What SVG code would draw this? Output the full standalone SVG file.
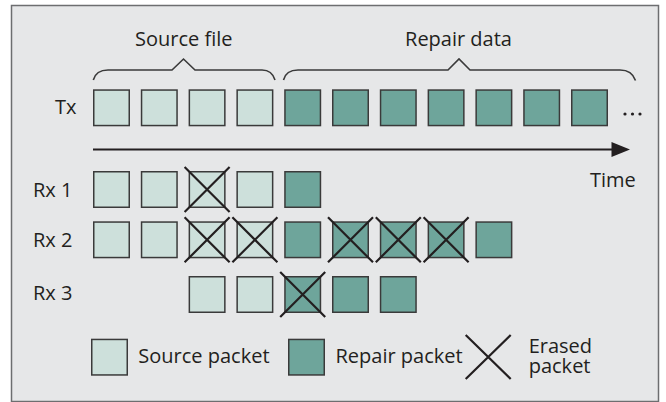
<svg xmlns="http://www.w3.org/2000/svg" width="666" height="402" viewBox="0 0 666 402">
<style>
.txt{font-family:"Open Sans","Liberation Sans",sans-serif;font-size:20px;fill:#231f20}
.src{fill:#cde0db;stroke:#3a3a3a;stroke-width:1.5}
.rep{fill:#6ea59b;stroke:#3a3a3a;stroke-width:1.5}
.x{stroke:#231f20;stroke-width:2.2;fill:none}
.br{stroke:#3a3a3a;stroke-width:1.6;fill:none}
</style>
<defs>
<rect id="s" class="src" x="0.75" y="0.75" width="35.5" height="35.5"/>
<rect id="r" class="rep" x="0.75" y="0.75" width="35.5" height="35.5"/>
<path id="xx" class="x" d="M-4,-4L41,41M41,-4L-4,41"/>
</defs>
<rect x="11.5" y="5.5" width="647" height="396" fill="#e6e7e8" stroke="#6d6e70" stroke-width="1.5"/>

<g id="labels">
<text class="txt" x="183.8" y="46" text-anchor="middle">Source file</text>
<text class="txt" x="458.5" y="46" text-anchor="middle">Repair data</text>
<text class="txt" x="55" y="114">Tx</text>
<text class="txt" x="33" y="196.5">Rx 1</text>
<text class="txt" x="33" y="246.7">Rx 2</text>
<text class="txt" x="33" y="300">Rx 3</text>
<text class="txt" x="590" y="186.7">Time</text>
</g>

<g id="braces">
<path class="br" d="M93.3,80 Q96,70 108,70 L172,70 L183.5,59 L195,70 L262,70 Q272,70 275,80"/>
<path class="br" d="M283.5,80 Q286,70 298,70 L448,70 L459,59 L470,70 L620,70 Q632,70 635.5,80.5"/>
</g>

<g id="tx">
<use href="#s" x="93" y="89.3"/>
<use href="#s" x="140.8" y="89.3"/>
<use href="#s" x="188.6" y="89.3"/>
<use href="#s" x="236.4" y="89.3"/>
<use href="#r" x="284.2" y="89.3"/>
<use href="#r" x="332" y="89.3"/>
<use href="#r" x="379.8" y="89.3"/>
<use href="#r" x="427.6" y="89.3"/>
<use href="#r" x="475.4" y="89.3"/>
<use href="#r" x="523.2" y="89.3"/>
<use href="#r" x="571" y="89.3"/>
<circle cx="625" cy="114" r="1.6" fill="#231f20"/>
<circle cx="632.5" cy="114" r="1.6" fill="#231f20"/>
<circle cx="640" cy="114" r="1.6" fill="#231f20"/>
</g>

<g id="connectors">
<line x1="93" y1="149.5" x2="613" y2="149.5" stroke="#231f20" stroke-width="1.8"/>
<path d="M611.5,142 L630,149.5 L611.5,157 Z" fill="#231f20"/>
</g>

<g id="rx1">
<use href="#s" x="93" y="171"/>
<use href="#s" x="140.8" y="171"/>
<use href="#s" x="188.6" y="171"/>
<use href="#xx" x="188.6" y="171"/>
<use href="#s" x="236.4" y="171"/>
<use href="#r" x="284.2" y="171"/>
</g>

<g id="rx2">
<use href="#s" x="93" y="221.3"/>
<use href="#s" x="140.8" y="221.3"/>
<use href="#s" x="188.6" y="221.3"/>
<use href="#xx" x="188.6" y="221.3"/>
<use href="#s" x="236.4" y="221.3"/>
<use href="#xx" x="236.4" y="221.3"/>
<use href="#r" x="284.2" y="221.3"/>
<use href="#r" x="332" y="221.3"/>
<use href="#xx" x="332" y="221.3"/>
<use href="#r" x="379.8" y="221.3"/>
<use href="#xx" x="379.8" y="221.3"/>
<use href="#r" x="427.6" y="221.3"/>
<use href="#xx" x="427.6" y="221.3"/>
<use href="#r" x="475.4" y="221.3"/>
</g>

<g id="rx3">
<use href="#s" x="188.6" y="276"/>
<use href="#s" x="236.4" y="276"/>
<use href="#r" x="284.2" y="276"/>
<use href="#xx" x="284.2" y="276"/>
<use href="#r" x="332" y="276"/>
<use href="#r" x="379.8" y="276"/>
</g>

<g id="legend">
<use href="#s" x="91" y="338.7"/>
<text class="txt" x="138.3" y="363.3">Source packet</text>
<use href="#r" x="288" y="338.7"/>
<text class="txt" x="335.5" y="363.3">Repair packet</text>
<path class="x" d="M465.7,335L510.7,379M510.7,335L465.7,379" stroke-width="1.9"/>
<text class="txt" x="528.7" y="353.3">Erased</text>
<text class="txt" x="528.7" y="373">packet</text>
</g>
</svg>
